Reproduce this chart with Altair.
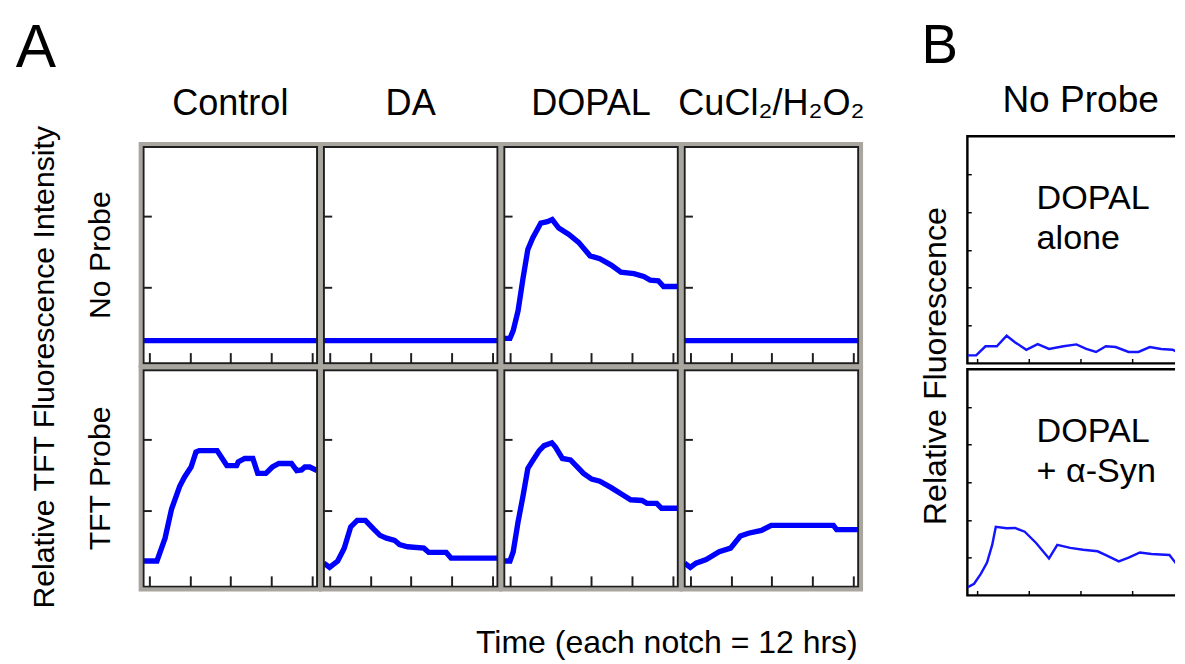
import altair as alt
import pandas as pd

FONT = "Liberation Sans"

# ---------------- data ----------------
treatments = ["Control", "DA", "DOPAL", "CuCl₂/H₂O₂"]
probes = ["No Probe", "TFT Probe"]

# Panel A (time in 12-h notches, relative TFT fluorescence)
np_control_t = [-0.14, 4.13]
np_control_f = [0.25, 0.25]
np_da_t = [-0.14, 4.13]
np_da_f = [0.25, 0.25]
np_dopal_t = [-0.14, 0.0, 0.08, 0.2, 0.32, 0.44, 0.56, 0.76, 0.92, 1.04, 1.20, 1.45,
              1.69, 1.97, 2.21, 2.49, 2.73, 3.05, 3.29, 3.45, 3.65, 3.78, 4.13]
np_dopal_f = [0.28, 0.28, 0.39, 0.67, 1.12, 1.53, 1.69, 1.90, 1.92, 1.95, 1.83, 1.74,
              1.63, 1.44, 1.40, 1.31, 1.21, 1.19, 1.15, 1.10, 1.09, 1.01, 1.01]
np_cu_t = [-0.14, 4.13]
np_cu_f = [0.25, 0.25]

tft_control_t = [-0.14, 0.19, 0.39, 0.55, 0.75, 0.87, 1.03, 1.15, 1.23, 1.67, 1.91, 2.15,
                 2.19, 2.35, 2.55, 2.67, 2.87, 3.03, 3.19, 3.50, 3.63, 3.75, 3.83, 3.95, 4.13]
tft_control_f = [0.29, 0.29, 0.61, 1.02, 1.34, 1.47, 1.61, 1.82, 1.84, 1.84, 1.63, 1.63,
                 1.68, 1.73, 1.73, 1.52, 1.52, 1.61, 1.66, 1.66, 1.56, 1.57, 1.61, 1.61, 1.56]
tft_da_t = [-0.14, 0.0, 0.2, 0.36, 0.52, 0.68, 0.88, 1.08, 1.24, 1.40, 1.60, 1.72, 1.92,
            2.32, 2.44, 2.87, 2.99, 4.13]
tft_da_f = [0.26, 0.20, 0.29, 0.47, 0.77, 0.86, 0.86, 0.74, 0.65, 0.61, 0.58, 0.52, 0.49,
            0.47, 0.41, 0.41, 0.33, 0.33]
tft_dopal_t = [-0.14, 0.0, 0.08, 0.2, 0.32, 0.44, 0.56, 0.72, 0.84, 1.03, 1.12, 1.29, 1.49,
               1.81, 2.01, 2.21, 2.49, 2.77, 2.97, 3.25, 3.37, 3.61, 3.73, 4.13]
tft_dopal_f = [0.29, 0.29, 0.42, 0.84, 1.20, 1.59, 1.70, 1.84, 1.91, 1.95, 1.89, 1.73, 1.71,
               1.52, 1.44, 1.41, 1.32, 1.22, 1.15, 1.14, 1.10, 1.10, 1.03, 1.03]
tft_cu_t = [-0.14, 0.0, 0.14, 0.39, 0.71, 0.99, 1.23, 1.43, 1.75, 1.99, 3.52, 3.60, 4.13]
tft_cu_f = [0.26, 0.20, 0.26, 0.31, 0.42, 0.47, 0.64, 0.68, 0.72, 0.79, 0.79, 0.73, 0.73]

# Panel B (No Probe)
b_alone_t = [-0.18, -0.02, 0.16, 0.38, 0.57, 0.73, 0.95, 1.17, 1.39, 1.67, 1.92, 2.11,
             2.30, 2.49, 2.68, 2.93, 3.12, 3.34, 3.56, 3.78, 3.91]
b_alone_f = [0.21, 0.21, 0.45, 0.45, 0.73, 0.56, 0.36, 0.51, 0.38, 0.45, 0.50, 0.38,
             0.30, 0.45, 0.43, 0.30, 0.30, 0.43, 0.38, 0.36, 0.27]
b_syn_t = [-0.18, -0.06, 0.07, 0.19, 0.29, 0.36, 0.57, 0.73, 0.92, 1.14, 1.39, 1.55,
           1.80, 2.05, 2.33, 2.49, 2.74, 2.93, 3.15, 3.37, 3.72, 3.91]
b_syn_f = [0.22, 0.31, 0.57, 0.87, 1.34, 1.82, 1.78, 1.79, 1.69, 1.39, 0.98, 1.34,
           1.26, 1.21, 1.17, 1.07, 0.90, 1.00, 1.14, 1.10, 1.07, 0.74]
b_alone_note = ["DOPAL", "alone"]
b_syn_note = ["DOPAL", "+ α-Syn"]

# ---------------- helpers ----------------
def spacer():
    """Tiny invisible view used only to anchor the vertical layout of a block."""
    return alt.Chart(pd.DataFrame({"s": [0]})).mark_point(opacity=0, size=1).encode(
        x=alt.value(0), y=alt.value(0)
    ).properties(width=1, height=1, view=alt.ViewBackground(strokeOpacity=0))


# ---------------- panel A ----------------
series_a = [
    ("No Probe", "Control", np_control_t, np_control_f),
    ("No Probe", "DA", np_da_t, np_da_f),
    ("No Probe", "DOPAL", np_dopal_t, np_dopal_f),
    ("No Probe", "CuCl₂/H₂O₂", np_cu_t, np_cu_f),
    ("TFT Probe", "Control", tft_control_t, tft_control_f),
    ("TFT Probe", "DA", tft_da_t, tft_da_f),
    ("TFT Probe", "DOPAL", tft_dopal_t, tft_dopal_f),
    ("TFT Probe", "CuCl₂/H₂O₂", tft_cu_t, tft_cu_f),
]
rows = []
for probe, trt, ts, fs in series_a:
    for i, (t, f) in enumerate(zip(ts, fs)):
        rows.append({"probe": probe, "treatment": trt, "idx": i, "t": t, "f": f})
dfA = pd.DataFrame(rows)

CELL_W, CELL_H = 178, 222
GRAY = "#a9a69f"
DARK = "#1e1e1e"

xA = alt.X("t:Q", scale=alt.Scale(domain=[-0.14, 4.13], nice=False, zero=False),
           axis=alt.Axis(values=[0, 1, 2, 3, 4], labels=False, title=None, grid=False,
                         domain=False, tickSize=11, offset=-11, tickColor=DARK,
                         tickWidth=2))
yA = alt.Y("f:Q", scale=alt.Scale(domain=[-0.07, 2.97], nice=False, zero=False),
           axis=alt.Axis(values=[1, 2], labels=False, title=None, grid=False,
                         domain=False, tickSize=8, offset=-8, tickColor=DARK,
                         tickWidth=2))

band = alt.Chart().mark_rect(fillOpacity=0, stroke=GRAY, strokeWidth=4).encode(
    x=alt.value(-3), x2=alt.value(CELL_W + 3),
    y=alt.value(-3), y2=alt.value(CELL_H + 3),
).transform_filter(alt.datum.idx == 0)

border = alt.Chart().mark_rect(fillOpacity=0, stroke=DARK, strokeWidth=2).encode(
    x=alt.value(0), x2=alt.value(CELL_W),
    y=alt.value(0), y2=alt.value(CELL_H),
).transform_filter(alt.datum.idx == 0)

lineA = alt.Chart().mark_line(color="#0000ff", strokeWidth=5.5, clip=True).encode(
    x=xA, y=yA)

A_facet = alt.layer(band, lineA, border, data=dfA).properties(
    width=CELL_W, height=CELL_H
).facet(
    row=alt.Row("probe:N", sort=probes, title="Relative TFT Fluorescence Intensity",
                header=alt.Header(labelFontSize=31, labelFont=FONT, labelColor="black",
                                  labelAngle=-90, labelOrient="left", labelPadding=12,
                                  titleFontSize=31, titleFont=FONT, titleColor="black",
                                  titleFontWeight="normal", titleOrient="left",
                                  titlePadding=15)),
    column=alt.Column("treatment:N", sort=treatments, title=None,
                      header=alt.Header(labelFontSize=37, labelFont=FONT,
                                        labelColor="black", labelPadding=25)),
    spacing={"row": 7, "column": 7},
    bounds="flush",
    title=alt.TitleParams("Time (each notch = 12 hrs)", orient="bottom", anchor="end",
                          frame="bounds", dx=-7, offset=19, fontSize=32.8, font=FONT,
                          fontWeight="normal", color="black"),
).resolve_axis(x="independent", y="independent")

A_block = alt.vconcat(spacer(), A_facet, spacing=0, title=alt.TitleParams(
    "A", anchor="start", dx=-14, offset=4, fontSize=62, font=FONT,
    fontWeight="normal", color="black"))

# ---------------- panel B ----------------
B_W, BT_H, BB_H = 213, 233, 232
PX_PER_NOTCH = 53


def b_panel(ts, fs, note, h, ty):
    df = pd.DataFrame({"t": ts, "f": fs})
    x = alt.X("t:Q", scale=alt.Scale(domain=[-0.19, -0.19 + B_W / PX_PER_NOTCH],
                                     nice=False, zero=False),
              axis=alt.Axis(values=[0, 1, 2, 3], labels=False, title=None, grid=False,
                            domain=False, tickSize=5, offset=-5, tickColor="black",
                            tickWidth=1.5))
    y = alt.Y("f:Q", scale=alt.Scale(domain=[0, 6], nice=False, zero=False),
              axis=alt.Axis(values=[1, 2, 3, 4, 5], labels=False, title=None,
                            grid=False, domain=False, tickSize=4, offset=-4,
                            tickColor="black", tickWidth=1.5))
    line = alt.Chart(df).mark_line(color="#1414ff", strokeWidth=2.5, clip=True).encode(
        x=x, y=y)
    txt = alt.Chart(pd.DataFrame({"note": [" ".join(note)]})).mark_text(
        align="left", baseline="alphabetic", fontSize=35, font=FONT, color="black",
        lineHeight=41,
    ).encode(x=alt.value(71), y=alt.value(ty), text=alt.value(note))
    return alt.layer(line, txt).properties(
        width=B_W, height=h,
        view=alt.ViewBackground(stroke="black", strokeWidth=2.5,
                                strokeDash=[B_W, h, B_W + h, 20]))


B_top = b_panel(b_alone_t, b_alone_f, b_alone_note, BT_H, 75)
B_bot = b_panel(b_syn_t, b_syn_f, b_syn_note, BB_H, 75)

B_inner = alt.vconcat(B_top, B_bot, spacing=2, title=alt.TitleParams(
    "Relative Fluorescence", orient="left", anchor="middle", offset=13, fontSize=33,
    font=FONT, fontWeight="normal", color="black"))
B_mid = alt.vconcat(B_inner, title=alt.TitleParams(
    "No Probe", anchor="middle", dx=33, offset=16, fontSize=38, font=FONT,
    fontWeight="normal", color="black"))
B_block = alt.vconcat(spacer(), B_mid, spacing=-4, title=alt.TitleParams(
    "B", anchor="start", dx=1, offset=8, fontSize=56, font=FONT,
    fontWeight="normal", color="black"))

chart = alt.hconcat(A_block, B_block, spacing=56).properties(
    padding={"left": 7, "top": 2, "right": 0, "bottom": 0}
).configure_view(stroke=DARK, strokeWidth=2).configure(background="white")

chart.save("out.html", embed_options={"renderer": "svg", "actions": False})
